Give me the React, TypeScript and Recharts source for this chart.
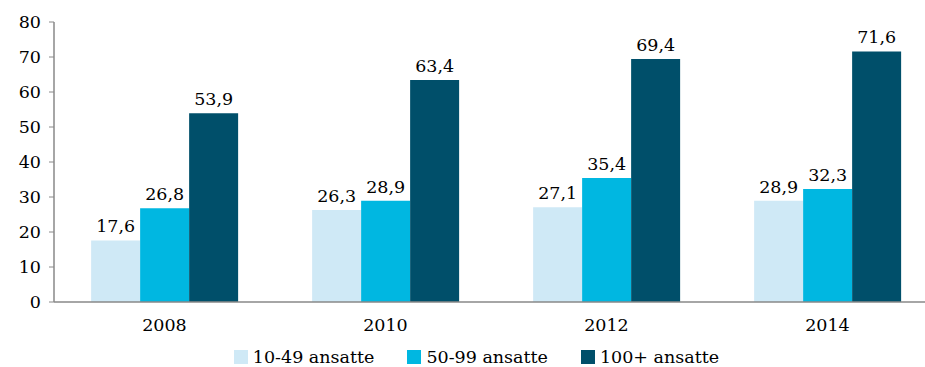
import React from 'react';
import { BarChart, Bar, XAxis, YAxis, Legend, LabelList } from 'recharts';

const years = ['2008', '2010', '2012', '2014'];
const small = [17.6, 26.3, 27.1, 28.9];
const medium = [26.8, 28.9, 35.4, 32.3];
const large = [53.9, 63.4, 69.4, 71.6];
const yTicks = [0, 10, 20, 30, 40, 50, 60, 70, 80];

const SERIES = [
  { key: 'small', name: '10-49 ansatte', color: '#cfe9f6' },
  { key: 'medium', name: '50-99 ansatte', color: '#00b7e1' },
  { key: 'large', name: '100+ ansatte', color: '#004f6a' },
];

const FONT = '"DejaVu Serif", Georgia, serif';
const FS = 17.5;

const data = years.map((year, i) => ({
  year,
  small: small[i],
  medium: medium[i],
  large: large[i],
}));

const fmt = (v: number) => v.toFixed(1).replace('.', ',');

// keep legend in series order (recharts sorts by name otherwise)
const renderLegend = (props: any) => {
  const payload = [...(props.payload || [])].sort(
    (a: any, b: any) => SERIES.findIndex((s) => s.name === a.value) - SERIES.findIndex((s) => s.name === b.value)
  );
  return (
    <div style={{ display: 'flex', justifyContent: 'center', fontFamily: FONT, fontSize: FS, color: '#000', paddingTop: 15, paddingLeft: 4 }}>
      {payload.map((p: any, i: number) => (
        <div key={i} style={{ display: 'flex', alignItems: 'center', marginRight: i < payload.length - 1 ? 33 : 0 }}>
          <span style={{ display: 'inline-block', width: 14, height: 14, background: p.color, marginRight: 5 }} />
          <span>{p.value}</span>
        </div>
      ))}
    </div>
  );
};

const App: React.FC = () => {
  return (
    <div style={{ position: 'absolute', left: 0, top: 0, width: 925, height: 367, overflow: 'hidden', background: '#fff' }}>
      <BarChart
        width={940}
        height={367}
        data={data}
        margin={{ top: 22, right: 2, left: 11, bottom: 0 }}
        barCategoryGap="16.8%"
        barGap={0}
      >
        <XAxis
          dataKey="year"
          tickLine={false}
          axisLine={{ stroke: '#888', strokeWidth: 1.5 }}
          tick={{ fill: '#000', fontSize: FS, fontFamily: FONT }}
          height={30}
          tickMargin={11}
        />
        <YAxis
          domain={[0, 80]}
          ticks={yTicks}
          width={43}
          axisLine={{ stroke: '#888', strokeWidth: 1.5 }}
          tickLine={{ stroke: '#888' }}
          tickSize={5}
          tickMargin={8}
          tick={{ fill: '#000', fontSize: FS, fontFamily: FONT }}
        />
        <Legend verticalAlign="bottom" height={35} content={renderLegend} />
        {SERIES.map((s) => (
          <Bar key={s.key} dataKey={s.key} name={s.name} fill={s.color} isAnimationActive={false}>
            <LabelList
              dataKey={s.key}
              position="top"
              offset={8}
              formatter={(v: any) => fmt(Number(v))}
              style={{ fill: '#000', fontSize: FS, fontFamily: FONT }}
            />
          </Bar>
        ))}
      </BarChart>
    </div>
  );
};

export default App;
